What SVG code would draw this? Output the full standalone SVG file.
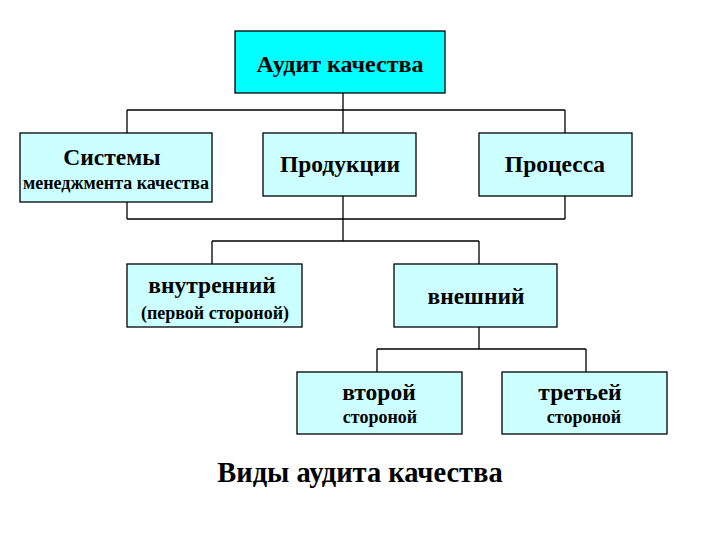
<svg xmlns="http://www.w3.org/2000/svg" width="720" height="540" viewBox="0 0 720 540">
<style>
.box{fill:#CCFFFF;stroke:#000;stroke-width:1.3}
.top{fill:#00FFFF;stroke:#000;stroke-width:1.3}
.c{fill:none;stroke:#000;stroke-width:1.3}
text{font-family:"Liberation Serif","Times New Roman",serif;font-weight:bold;fill:#000;text-anchor:middle}
.h{font-size:23.5px}
.s{font-size:18px}
</style>
<rect width="720" height="540" fill="#fff"/>
<g id="connectors">
<path class="c" d="M343 93V110M127 110H565M127 110V133M343 110V133M565 110V133"/>
<path class="c" d="M127 202V219M127 219H565M565 196V219M343 196V241M212 241H479M212 241V264M479 241V264"/>
<path class="c" d="M479 327V349M377 349H586M377 349V372M586 349V372"/>
</g>
<g id="audit">
<rect class="top" x="235" y="31" width="210" height="62"/>
<text class="h" x="340" y="72" style="font-size:24px">Аудит качества</text>
</g>
<g id="sistemy">
<rect class="box" x="20" y="133" width="192" height="69"/>
<text class="h" x="112" y="165">Системы</text>
<text class="s" x="116" y="189">менеджмента качества</text>
</g>
<g id="produkcii">
<rect class="box" x="263" y="133" width="153" height="63"/>
<text class="h" x="340" y="172">Продукции</text>
</g>
<g id="processa">
<rect class="box" x="479" y="133" width="153" height="63"/>
<text class="h" x="555" y="172">Процесса</text>
</g>
<g id="vnutrenniy">
<rect class="box" x="127" y="264" width="175" height="63"/>
<text class="h" x="212" y="293">внутренний</text>
<text class="s" x="215" y="319">(первой стороной)</text>
</g>
<g id="vneshniy">
<rect class="box" x="394" y="264" width="163" height="63"/>
<text class="h" x="476" y="304">внешний</text>
</g>
<g id="vtoroy">
<rect class="box" x="297" y="372" width="165" height="62"/>
<text class="h" x="379" y="400">второй</text>
<text class="s" x="380" y="423">стороной</text>
</g>
<g id="tretey">
<rect class="box" x="502" y="372" width="165" height="62"/>
<text class="h" x="580" y="400">третьей</text>
<text class="s" x="584" y="423">стороной</text>
</g>
<text id="title" x="360" y="482" style="font-size:28.5px">Виды аудита качества</text>
</svg>
